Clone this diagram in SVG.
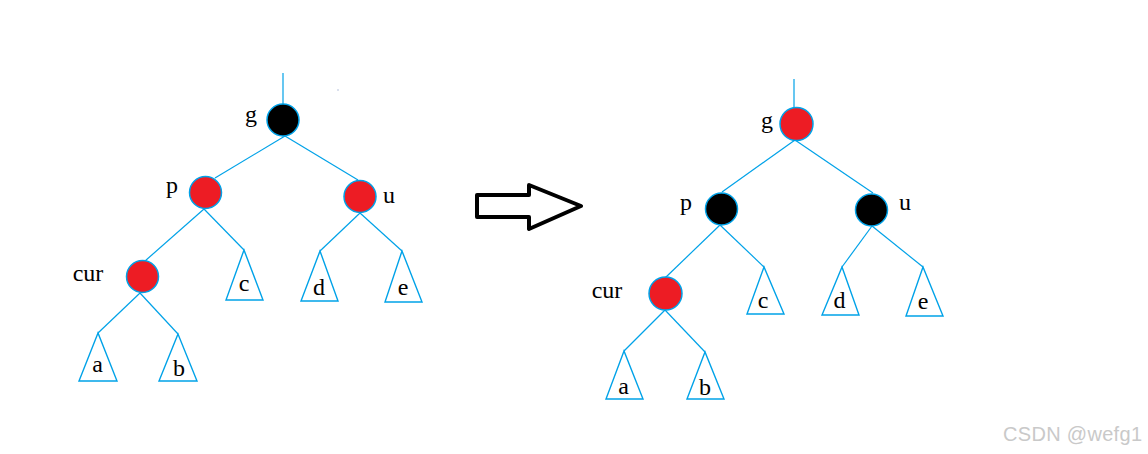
<svg xmlns="http://www.w3.org/2000/svg" width="1148" height="454" viewBox="0 0 1148 454">
<style>
.e{stroke:#00a2e8;stroke-width:1.2;fill:none}
.t{stroke:#00a2e8;stroke-width:1.4;fill:#fff}
.r{fill:#ed1c24;stroke:#00a2e8;stroke-width:1.5}
.k{fill:#000;stroke:#00a2e8;stroke-width:1.5}
.l{font-family:"Liberation Serif",serif;font-size:24px;fill:#000;text-anchor:middle}
.w{font-family:"Liberation Sans",Arial,sans-serif;font-size:20px;fill:#c9c9c9}
</style>
<rect width="1148" height="454" fill="#fff"/>
<g id="connectors">
<line class="e" x1="283" y1="73" x2="283" y2="105"/>
<line class="e" x1="285" y1="136" x2="215" y2="178"/>
<line class="e" x1="285" y1="136" x2="358" y2="180"/>
<line class="e" x1="204" y1="209" x2="145" y2="261"/>
<line class="e" x1="204" y1="209" x2="244" y2="250"/>
<line class="e" x1="360" y1="213" x2="320" y2="251"/>
<line class="e" x1="360" y1="213" x2="402" y2="251"/>
<line class="e" x1="140" y1="293" x2="98" y2="333"/>
<line class="e" x1="140" y1="293" x2="178" y2="334"/>
<line class="e" x1="794" y1="79" x2="794" y2="108"/>
<line class="e" x1="795" y1="140" x2="722" y2="192"/>
<line class="e" x1="795" y1="140" x2="873" y2="193"/>
<line class="e" x1="720" y1="225" x2="665" y2="278"/>
<line class="e" x1="720" y1="225" x2="764" y2="267"/>
<line class="e" x1="872" y1="226" x2="842" y2="267"/>
<line class="e" x1="872" y1="226" x2="923" y2="267"/>
<line class="e" x1="665" y1="310" x2="624" y2="351"/>
<line class="e" x1="665" y1="310" x2="705" y2="352"/>
</g>
<g id="arrow">
<polygon points="477,195 529,195 529,185 581,206 529,229 529,217 477,217" fill="#fff" stroke="#000" stroke-width="4" stroke-linejoin="round"/>
</g>
<circle cx="338" cy="90" r="0.7" fill="#9ac"/>
<g id="L-g"><circle class="k" cx="283" cy="120" r="16"/><text class="l" x="251" y="122">g</text></g>
<g id="L-p"><circle class="r" cx="205.5" cy="192.5" r="16"/><text class="l" x="172" y="193">p</text></g>
<g id="L-u"><circle class="r" cx="360" cy="196.5" r="16"/><text class="l" x="389" y="203">u</text></g>
<g id="L-cur"><circle class="r" cx="142.5" cy="276.5" r="16"/><text class="l" x="88" y="281">cur</text></g>
<g id="L-c"><polygon class="t" points="244,250 226,300 263,300"/><text class="l" x="244" y="291">c</text></g>
<g id="L-d"><polygon class="t" points="320,251 301,301 338,301"/><text class="l" x="319" y="295">d</text></g>
<g id="L-e"><polygon class="t" points="402,251 385,302 422,302"/><text class="l" x="403" y="295">e</text></g>
<g id="L-a"><polygon class="t" points="98,333 79,381 117,381"/><text class="l" x="97.5" y="372">a</text></g>
<g id="L-b"><polygon class="t" points="178,334 159,381 197,381"/><text class="l" x="179" y="376">b</text></g>
<g id="R-g"><circle class="r" cx="796.5" cy="124" r="16.5"/><text class="l" x="767" y="128">g</text></g>
<g id="R-p"><circle class="k" cx="721.5" cy="209" r="16"/><text class="l" x="686" y="210">p</text></g>
<g id="R-u"><circle class="k" cx="871.5" cy="210" r="16"/><text class="l" x="905" y="210">u</text></g>
<g id="R-cur"><circle class="r" cx="665.5" cy="293.5" r="16.5"/><text class="l" x="607" y="298">cur</text></g>
<g id="R-c"><polygon class="t" points="764,267 747,314 784,314"/><text class="l" x="763" y="308">c</text></g>
<g id="R-d"><polygon class="t" points="842,267 822,315 859,315"/><text class="l" x="839.5" y="308">d</text></g>
<g id="R-e"><polygon class="t" points="923,267 906,316 943,316"/><text class="l" x="923" y="309">e</text></g>
<g id="R-a"><polygon class="t" points="624,351 606,399 643,399"/><text class="l" x="623.5" y="394">a</text></g>
<g id="R-b"><polygon class="t" points="705,352 687,399 724,399"/><text class="l" x="705" y="395">b</text></g>
<text class="w" x="1003" y="441" textLength="139">CSDN @wefg1</text>
</svg>
